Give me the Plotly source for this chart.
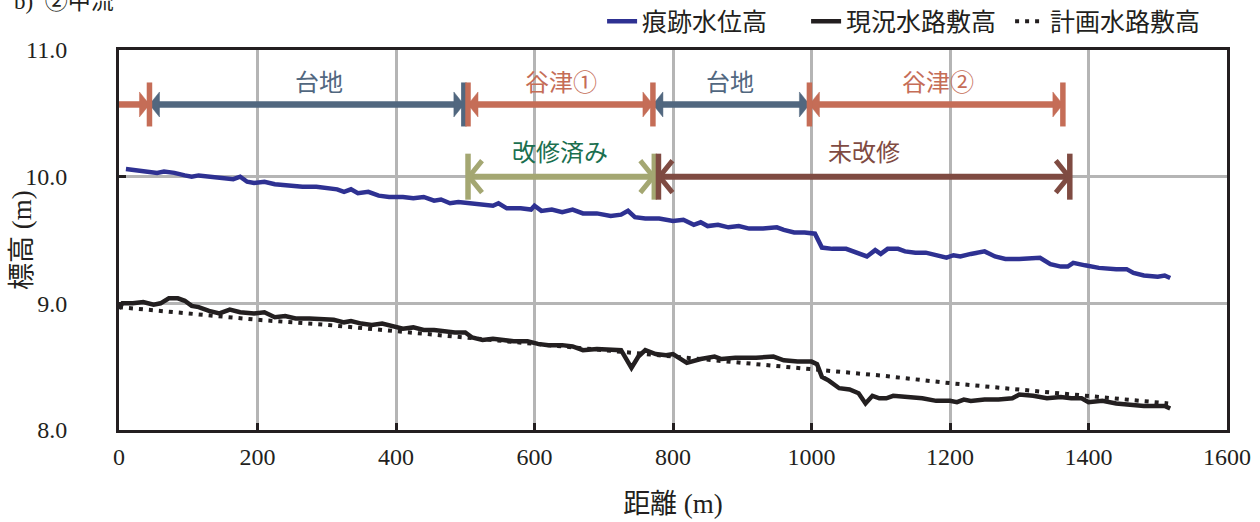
import plotly.graph_objects as go

# ---------------- data ----------------
# 痕跡水位高 (trace water level)
trace_x = [10, 25, 40, 55, 65, 80, 95, 105, 115, 130, 150, 165, 175, 185, 195, 210, 225, 245, 265, 285,
           300, 315, 325, 335, 345, 360, 375, 390, 410, 425, 440, 455, 465, 478, 490, 505, 520, 540, 548, 560,
           580, 595, 600, 610, 625, 640, 655, 670, 690, 710, 725, 735, 745, 760, 780, 800, 815, 830, 840, 850,
           865, 880, 895, 910, 930, 950, 960, 975, 990, 1000, 1005, 1015, 1030, 1050, 1065, 1080, 1092, 1100, 1110, 1125,
           1135, 1150, 1165, 1180, 1195, 1205, 1215, 1230, 1250, 1265, 1280, 1300, 1320, 1330, 1345, 1360, 1370, 1378, 1395, 1415,
           1440, 1455, 1465, 1480, 1500, 1510, 1518]
trace_y = [10.06, 10.05, 10.04, 10.03, 10.04, 10.03, 10.01, 10.00, 10.01, 10.00, 9.99, 9.98, 10.00, 9.96, 9.95, 9.96, 9.94, 9.93, 9.92, 9.92,
           9.91, 9.90, 9.88, 9.90, 9.87, 9.88, 9.85, 9.84, 9.84, 9.83, 9.84, 9.81, 9.82, 9.79, 9.80, 9.79, 9.78, 9.77, 9.79, 9.75,
           9.75, 9.74, 9.77, 9.73, 9.74, 9.72, 9.74, 9.71, 9.71, 9.69, 9.70, 9.73, 9.68, 9.67, 9.67, 9.65, 9.66, 9.62, 9.64, 9.61,
           9.62, 9.60, 9.61, 9.59, 9.59, 9.60, 9.58, 9.56, 9.56, 9.55, 9.55, 9.44, 9.43, 9.43, 9.40, 9.37, 9.42, 9.39, 9.43, 9.43,
           9.41, 9.40, 9.40, 9.38, 9.36, 9.38, 9.37, 9.39, 9.41, 9.37, 9.35, 9.35, 9.36, 9.36, 9.31, 9.29, 9.29, 9.32, 9.30, 9.28,
           9.27, 9.27, 9.24, 9.22, 9.21, 9.22, 9.20]

# 現況水路敷高 (current channel bed)
bed_x = [0, 5, 20, 35, 50, 60, 72, 85, 95, 105, 115, 130, 145, 160, 175, 195, 210, 225, 240, 255,
         275, 295, 310, 325, 335, 350, 365, 380, 395, 410, 425, 440, 455, 470, 485, 500, 510, 525, 540, 555,
         570, 590, 605, 620, 640, 655, 670, 690, 710, 725, 740, 750, 760, 775, 790, 800, 820, 840, 860, 870,
         890, 920, 945, 960, 980, 1000, 1008, 1015, 1025, 1040, 1055, 1068, 1078, 1088, 1098, 1108, 1118, 1140, 1160, 1180,
         1200, 1210, 1220, 1230, 1250, 1270, 1290, 1300, 1320, 1340, 1360, 1375, 1390, 1400, 1420, 1440, 1460, 1480, 1500, 1510,
         1518]
bed_y = [8.96, 9.00, 9.00, 9.01, 8.99, 9.00, 9.04, 9.04, 9.02, 8.98, 8.97, 8.94, 8.92, 8.95, 8.93, 8.92, 8.93, 8.89, 8.90, 8.88,
         8.88, 8.87, 8.87, 8.85, 8.86, 8.84, 8.83, 8.84, 8.82, 8.80, 8.81, 8.79, 8.79, 8.78, 8.77, 8.77, 8.73, 8.71, 8.72, 8.71,
         8.70, 8.70, 8.68, 8.67, 8.67, 8.66, 8.63, 8.64, 8.63, 8.63, 8.49, 8.58, 8.63, 8.60, 8.59, 8.60, 8.53, 8.56, 8.58, 8.56,
         8.57, 8.57, 8.58, 8.55, 8.54, 8.54, 8.52, 8.42, 8.39, 8.33, 8.32, 8.29, 8.21, 8.27, 8.25, 8.25, 8.27, 8.26, 8.25, 8.23,
         8.23, 8.22, 8.24, 8.23, 8.24, 8.24, 8.25, 8.28, 8.27, 8.25, 8.26, 8.25, 8.25, 8.22, 8.23, 8.21, 8.20, 8.19, 8.19, 8.19,
         8.17]

# 計画水路敷高 (planned channel bed)
plan_x = [0, 100, 200, 300, 400, 500, 600, 700, 800, 900, 1000, 1100, 1200, 1300, 1400, 1515]
plan_y = [8.97, 8.92, 8.87, 8.83, 8.78, 8.73, 8.68, 8.63, 8.58, 8.53, 8.48, 8.43, 8.37, 8.32, 8.27, 8.21]

x_tick_vals = [0, 200, 400, 600, 800, 1000, 1200, 1400, 1600]
y_tick_vals = [8.0, 9.0, 10.0, 11.0]

# section bars (row 1: terrain, row 2: improvement status)
row1_level = 10.57
row1_start = [0, 44, 504, 771, 997]
row1_end = [44, 498, 771, 997, 1363]
row1_kind = ["yatsu", "daichi", "yatsu", "daichi", "yatsu"]
row1_left_head = [False, True, True, True, True]
row1_ticks = [44, 498, 504, 771, 997, 1363]
row1_tick_kind = ["yatsu", "daichi", "yatsu", "yatsu", "yatsu", "yatsu"]
row1_labels = ["台地", "谷津①", "台地", "谷津②"]
row1_label_x = [289, 638, 883, 1182]
row1_label_kind = ["daichi", "yatsu", "daichi", "yatsu"]
row1_label_level = 10.76

row2_level = 10.0
row2_start = [504, 779]
row2_end = [773, 1373]
row2_kind = ["done", "undone"]
row2_labels = ["改修済み", "未改修"]
row2_label_x = [637, 1076]
row2_label_level = 10.21

bar_colors = {"yatsu": "#c56d57", "daichi": "#51677f", "done": "#a4a772", "undone": "#7f4b42"}
label_colors = {"yatsu": "#c56d57", "daichi": "#51677f", "done": "#1b6f4f", "undone": "#7f4b42"}

# ---------------- figure ----------------
ink = "#231f20"
serif = "Liberation Serif, Times New Roman, Noto Sans CJK JP, serif"
cjk = "Noto Sans CJK JP, sans-serif"

fig = go.Figure()
fig.add_trace(go.Scatter(x=trace_x, y=trace_y, mode="lines", name="痕跡水位高",
                         line=dict(color="#2e3192", width=4.5)))
fig.add_trace(go.Scatter(x=bed_x, y=bed_y, mode="lines", name="現況水路敷高",
                         line=dict(color=ink, width=4.5)))
fig.add_trace(go.Scatter(x=plan_x, y=plan_y, mode="lines", name="計画水路敷高",
                         line=dict(color=ink, width=4, dash="4px,6px")))

shapes = []
# row 1 bars
for x0, x1, k, lh in zip(row1_start, row1_end, row1_kind, row1_left_head):
    c = bar_colors[k]
    shapes.append(dict(type="line", xref="x", yref="y", x0=x0, x1=x1, y0=row1_level, y1=row1_level,
                       line=dict(color=c, width=6.5), layer="above"))
    shapes.append(dict(type="path", xref="x", yref="y", xsizemode="pixel", ysizemode="pixel",
                       xanchor=x1, yanchor=row1_level, path="M0,0 L-10,12.5 L-10,-12.5 Z",
                       fillcolor=c, line=dict(color=c, width=0.5), layer="above"))
    if lh:
        shapes.append(dict(type="path", xref="x", yref="y", xsizemode="pixel", ysizemode="pixel",
                           xanchor=x0, yanchor=row1_level, path="M0,0 L10,12.5 L10,-12.5 Z",
                           fillcolor=c, line=dict(color=c, width=0.5), layer="above"))
for xt, k in zip(row1_ticks, row1_tick_kind):
    shapes.append(dict(type="line", xref="x", yref="y", ysizemode="pixel", yanchor=row1_level,
                       x0=xt, x1=xt, y0=-22, y1=22, line=dict(color=bar_colors[k], width=5.5), layer="above"))

# row 2 bars
for x0, x1, k in zip(row2_start, row2_end, row2_kind):
    c = bar_colors[k]
    shapes.append(dict(type="line", xref="x", yref="y", x0=x0, x1=x1, y0=row2_level, y1=row2_level,
                       line=dict(color=c, width=6), layer="above"))
    shapes.append(dict(type="path", xref="x", yref="y", xsizemode="pixel", ysizemode="pixel",
                       xanchor=x0, yanchor=row2_level, path="M14,16 L1,0 L14,-16",
                       line=dict(color=c, width=5), layer="above"))
    shapes.append(dict(type="path", xref="x", yref="y", xsizemode="pixel", ysizemode="pixel",
                       xanchor=x1, yanchor=row2_level, path="M-14,16 L-1,0 L-14,-16",
                       line=dict(color=c, width=5), layer="above"))
    for xt in (x0, x1):
        shapes.append(dict(type="line", xref="x", yref="y", ysizemode="pixel", yanchor=row2_level,
                           x0=xt, x1=xt, y0=-23, y1=23, line=dict(color=c, width=5.5), layer="above"))

annotations = []
for t, xl, k in zip(row1_labels, row1_label_x, row1_label_kind):
    annotations.append(dict(x=xl, y=row1_label_level, xref="x", yref="y", text=t, showarrow=False,
                            font=dict(family=cjk, size=24, color=label_colors[k])))
for t, xl, k in zip(row2_labels, row2_label_x, row2_kind):
    annotations.append(dict(x=xl, y=row2_label_level, xref="x", yref="y", text=t, showarrow=False,
                            font=dict(family=cjk, size=24, color=label_colors[k])))
annotations.append(dict(x=-0.097, y=1.127, xref="paper", yref="paper", xanchor="left", yanchor="middle",
                        text="b)  ②中流", showarrow=False, font=dict(family=serif, size=23, color=ink)))
# y-axis title
annotations.append(dict(x=-0.0875, y=0.5, xref="paper", yref="paper", xanchor="center", yanchor="middle",
                        text="標高 (m)", textangle=-90, showarrow=False,
                        font=dict(family=serif, size=27, color=ink)))

axis_common = dict(showgrid=True, gridcolor="#b5b5b5", gridwidth=2.5, showline=True, linecolor=ink,
                   linewidth=3, mirror=True, ticks="inside", ticklen=7, tickwidth=2.5, tickcolor=ink,
                   tickfont=dict(family=serif, size=24, color=ink), zeroline=False)

fig.update_layout(
    width=1260, height=522,
    margin=dict(l=119, r=33, t=50, b=92, autoexpand=False),
    paper_bgcolor="white", plot_bgcolor="white",
    showlegend=True,
    legend=dict(orientation="h", x=0.436, xanchor="left", y=1.075, yanchor="middle",
                font=dict(family=cjk, size=25, color=ink), bgcolor="rgba(0,0,0,0)",
                entrywidth=159, entrywidthmode="pixels", itemwidth=30, tracegroupgap=0),
    xaxis=dict(range=[0, 1600], tickvals=x_tick_vals, ticktext=[str(v) for v in x_tick_vals],
               title=dict(text="距離 (m)", font=dict(family=serif, size=27, color=ink), standoff=26),
               ticklabelstandoff=3, **axis_common),
    yaxis=dict(range=[8, 11], tickvals=y_tick_vals, ticktext=[f"{v:.1f}" for v in y_tick_vals],
               ticklabelstandoff=44, **axis_common),
    shapes=shapes,
    annotations=annotations,
)

fig.write_html("out.html", config={"displayModeBar": False},
               post_script="document.body.style.margin='0';document.body.style.padding='0';")
